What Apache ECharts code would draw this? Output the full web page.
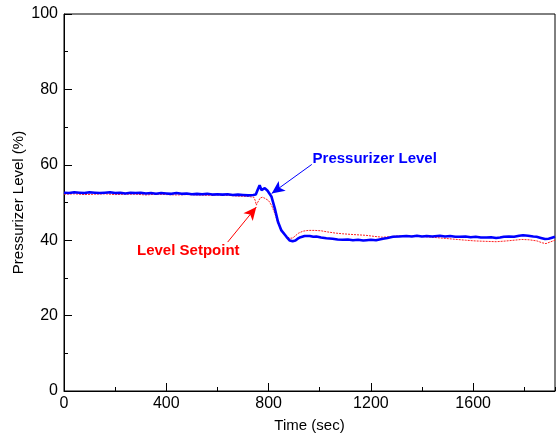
<!DOCTYPE html>
<html><head><meta charset="utf-8">
<script src="https://cdn.jsdelivr.net/npm/echarts@6/dist/echarts.min.js"></script>
<style>html,body{margin:0;padding:0;background:#fff}#c{width:557px;height:438px}</style>
</head><body><div id="c"></div>
<script>
var levelTime = [0,20,40,60,80,100,120,140,160,180,200,220,240,260,280,300,320,340,360,380,400,420,440,460,480,500,520,540,560,580,600,620,640,660,680,700,720,740,750,757,765,772,785,796,811,824,837,850,870,883,894,905,914,925,941,961,975,987,1005,1026,1050,1070,1090,1110,1130,1150,1170,1183,1200,1220,1247,1265,1286,1310,1339,1360,1380,1400,1418,1440,1470,1490,1510,1530,1548,1570,1590,1610,1630,1652,1670,1690,1705,1720,1740,1760,1780,1795,1815,1835,1848,1865,1881,1895,1905,1912,1920];
var levelValue = [52.6,52.5,52.7,52.6,52.5,52.7,52.6,52.5,52.6,52.7,52.5,52.6,52.4,52.6,52.5,52.6,52.4,52.5,52.3,52.5,52.4,52.3,52.5,52.3,52.4,52.2,52.3,52.2,52.3,52.1,52.2,52.1,52.2,52.0,52.1,52.0,51.9,52.0,52.1,53.3,54.6,53.3,53.8,53.1,51.6,48.5,44.8,42.6,40.9,39.9,39.7,39.9,40.4,40.8,41.1,41.1,40.9,41.0,40.7,40.5,40.4,40.2,40.1,40.2,40.0,40.1,39.9,40.0,40.1,40.0,40.4,40.6,40.9,41.0,41.1,41.0,41.2,41.0,41.1,41.0,41.2,41.0,41.1,40.9,40.9,41.0,40.8,40.9,40.7,40.7,40.8,40.6,40.7,40.9,41.0,40.9,41.2,41.3,41.2,41.0,40.9,40.6,40.3,40.4,40.6,40.8,40.9];
var setpointTime = [0,40,80,120,160,200,240,280,320,360,400,440,480,520,560,600,640,680,720,742,748,752,758,767,776,786,800,812,825,838,852,868,883,895,905,918,935,955,980,1005,1030,1060,1090,1130,1180,1215,1245,1270,1300,1340,1380,1420,1470,1520,1570,1610,1650,1690,1730,1760,1790,1820,1850,1870,1885,1900,1920];
var setpointValue = [52.2,52.3,52.1,52.2,52.3,52.1,52.2,52.2,52.0,52.2,52.1,52.0,52.1,52.0,51.9,52.0,51.9,51.7,51.6,51.4,50.5,49.3,50.1,51.2,51.4,51.1,50.5,49.2,47.0,44.3,42.3,41.1,40.5,40.6,41.2,41.9,42.4,42.6,42.6,42.5,42.2,41.9,41.7,41.5,41.3,41.0,40.8,40.9,41.1,41.1,41.0,40.9,40.6,40.3,40.0,39.8,39.7,39.6,39.8,40.0,40.2,40.1,39.8,39.3,39.1,39.5,40.0];
var xTicks = [0,400,800,1200,1600];
var yTicks = [0,20,40,60,80,100];
var xMax = 1920;
var labelLevel = 'Pressurizer Level';
var labelSetpoint = 'Level Setpoint';
var arrowLevel = [[969,60.1],[812,52.4]];
var arrowSetpoint = [[640,39.5],[752,48.8]];

function pairs(t,v){return t.map(function(x,i){return [x,v[i]];});}
var font = 'Liberation Sans, Arial, sans-serif';
var chart = echarts.init(document.getElementById('c'));
var opt = {
  animation:false,
  grid:{left:64,right:2,top:14,bottom:47,show:true,borderColor:'#000',borderWidth:1,outerBoundsMode:'none',containLabel:false},
  xAxis:[{
    type:'value',min:0,max:xMax,interval:400,
    name:'Time (sec)',nameLocation:'middle',nameGap:27,nameMoveOverlap:false,
    nameTextStyle:{fontFamily:font,fontSize:15,color:'#000'},
    axisLine:{show:true,lineStyle:{color:'#000',width:1}},
    axisTick:{show:true,inside:true,length:8,lineStyle:{color:'#000'}},
    axisLabel:{fontFamily:font,fontSize:16,color:'#000',margin:5,showMaxLabel:false,
      formatter:function(v){return String(v);}},
    splitLine:{show:false}
  },{
    type:'value',min:0,max:xMax,interval:200,position:'bottom',
    axisLine:{show:false},
    axisTick:{show:true,inside:true,length:4,lineStyle:{color:'#000'}},
    axisLabel:{show:false},splitLine:{show:false}
  }],
  yAxis:{
    type:'value',min:0,max:100,interval:20,
    name:'Pressurizer Level (%)',nameLocation:'middle',nameGap:38,nameMoveOverlap:false,
    nameTextStyle:{fontFamily:font,fontSize:15,color:'#000'},
    axisLine:{show:true,lineStyle:{color:'#000',width:1}},
    axisTick:{show:true,inside:true,length:8,lineStyle:{color:'#000'}},
    minorTick:{show:true,splitNumber:2,length:4,lineStyle:{color:'#000'}},
    axisLabel:{fontFamily:font,fontSize:16,color:'#000',margin:6,formatter:function(v){return String(v);}},
    splitLine:{show:false}
  },
  series:[{
    type:'line',name:'Setpoint',data:pairs(setpointTime,setpointValue),
    showSymbol:false,symbol:'none',z:2,
    lineStyle:{color:'#ff2020',width:1,type:[2,1]},
    markLine:{silent:true,symbol:['none','arrow'],symbolSize:[9,13],
      lineStyle:{color:'#ff0000',width:1,type:'solid'},label:{show:false},
      data:[[{coord:arrowSetpoint[0]},{coord:arrowSetpoint[1]}]]}
  },{
    type:'line',name:'Level',data:pairs(levelTime,levelValue),
    showSymbol:false,symbol:'none',z:3,
    lineStyle:{color:'#0000ff',width:2.6},
    markLine:{silent:true,symbol:['none','arrow'],symbolSize:[9,13],
      lineStyle:{color:'#0000ff',width:1,type:'solid'},label:{show:false},
      data:[[{coord:arrowLevel[0]},{coord:arrowLevel[1]}]]}
  }]
};
chart.setOption(opt);
var pL = chart.convertToPixel({gridIndex:0},[1215,61.5]);
var pS = chart.convertToPixel({gridIndex:0},[486,37.3]);
chart.setOption({graphic:[
  {type:'text',x:pL[0],y:pL[1],style:{text:labelLevel,fill:'#0000ff',font:'bold 15px '+font,textAlign:'center',textVerticalAlign:'middle'}},
  {type:'text',x:pS[0],y:pS[1],style:{text:labelSetpoint,fill:'#ff0000',font:'bold 15px '+font,textAlign:'center',textVerticalAlign:'middle'}}
]});
</script></body></html>
